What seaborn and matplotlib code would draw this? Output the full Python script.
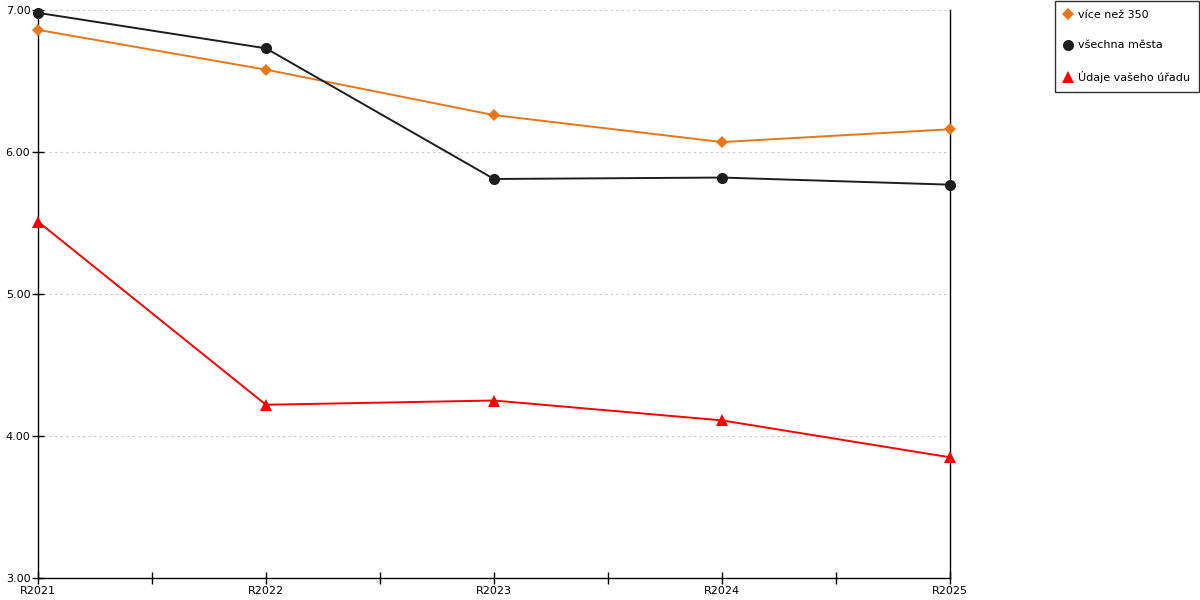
import pandas as pd
import matplotlib
matplotlib.use("Agg")
import matplotlib.pyplot as plt
import seaborn as sns
from matplotlib.ticker import MultipleLocator, FixedLocator, FormatStrFormatter
from matplotlib.lines import Line2D

sns.set_style("white")
plt.rcParams['font.family'] = ['DejaVu Sans']
plt.rcParams['text.color'] = 'black'
plt.rcParams['xtick.color'] = 'black'
plt.rcParams['ytick.color'] = 'black'

# data
roky = ["R2021", "R2022", "R2023", "R2024", "R2025"]
vice_nez_350 = [6.86, 6.58, 6.26, 6.07, 6.16]
vsechna_mesta = [6.98, 6.73, 5.81, 5.82, 5.77]
vas_urad = [5.51, 4.22, 4.25, 4.11, 3.85]

nazvy = ["více než 350", "všechna města", "Údaje vašeho úřadu"]
barvy = ["#E8761A", "#1E1E1E", "#FF0000"]
znacky = ["D", "o", "^"]
velikosti = [6, 8, 8]

df = pd.DataFrame({"rok": roky * 3,
                   "x": list(range(len(roky))) * 3,
                   "hodnota": vice_nez_350 + vsechna_mesta + vas_urad,
                   "serie": [n for n in nazvy for _ in roky]})

fig = plt.figure(figsize=(12, 6), dpi=100)
ax = fig.add_axes([38 / 1200, 22 / 600, 912 / 1200, 568 / 600])

for nazev, barva, zn, vel in zip(nazvy, barvy, znacky, velikosti):
    d = df[df["serie"] == nazev]
    sns.lineplot(data=d, x="x", y="hodnota", ax=ax, color=barva, marker=zn,
                 markersize=vel, markeredgewidth=0, linewidth=1.4,
                 clip_on=False, zorder=3, legend=False)

ax.set_xlim(0, 4)
ax.set_ylim(3, 7)
ax.xaxis.set_major_locator(FixedLocator(range(5)))
ax.set_xticklabels(roky)
ax.xaxis.set_minor_locator(MultipleLocator(0.5))
ax.yaxis.set_major_locator(MultipleLocator(1))
ax.yaxis.set_major_formatter(FormatStrFormatter("%.2f"))
ax.set_xlabel("")
ax.set_ylabel("")

ax.tick_params(axis="x", which="both", direction="inout", length=9, width=1,
               color="black", labelcolor="black", labelsize=8, pad=1, bottom=True)
ax.tick_params(axis="y", which="major", direction="inout", length=9, width=1,
               color="black", labelcolor="black", labelsize=8, pad=1, left=True)

ax.grid(axis="y", linestyle=(0, (2, 3)), color="#c8c8c8", linewidth=0.8)
ax.grid(axis="x", visible=False)

ax.spines["top"].set_visible(False)
for s in ["left", "bottom", "right"]:
    ax.spines[s].set_color("black")
    ax.spines[s].set_linewidth(1)

# legenda vpravo nahoře
handles = [Line2D([], [], color=b, marker=z, linestyle="none", markersize=v,
                  markeredgewidth=0) for b, z, v in zip(barvy, znacky, velikosti)]
leg = fig.legend(handles, nazvy, loc="upper left",
                 bbox_to_anchor=(1055 / 1200, 599 / 600),
                 frameon=True, fancybox=False, fontsize=8, handletextpad=0.45,
                 handlelength=0.8, borderpad=0.8, labelspacing=1.85,
                 borderaxespad=0)
leg.get_frame().set_edgecolor("black")
leg.get_frame().set_linewidth(1)

fig.savefig("out.png", dpi=100)
